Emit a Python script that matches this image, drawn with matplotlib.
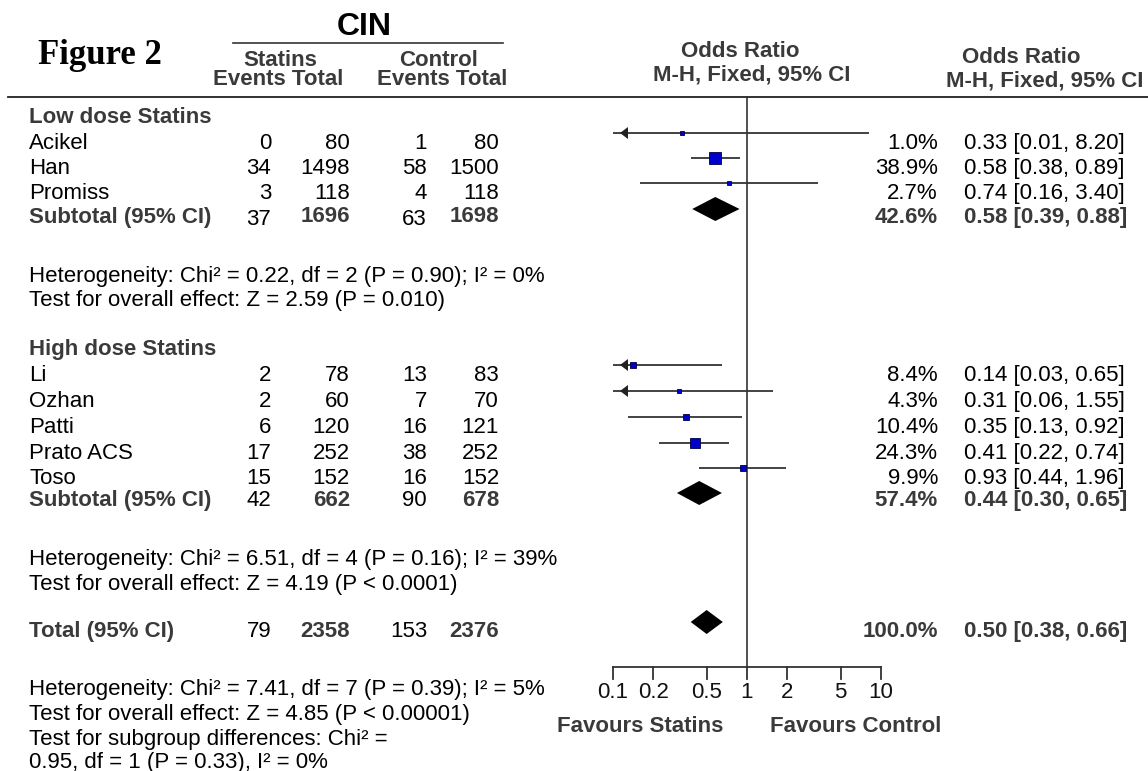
import matplotlib
matplotlib.use("Agg")
import matplotlib.pyplot as plt
import numpy as np

# ---------------- data ----------------
low_names = ["Acikel", "Han", "Promiss"]
low_ev_s = [0, 34, 3]
low_tot_s = [80, 1498, 118]
low_ev_c = [1, 58, 4]
low_tot_c = [80, 1500, 118]
low_weight = [1.0, 38.9, 2.7]
low_or = [0.33, 0.58, 0.74]
low_lo = [0.01, 0.38, 0.16]
low_hi = [8.20, 0.89, 3.40]
low_sub = dict(ev_s=37, tot_s=1696, ev_c=63, tot_c=1698, w=42.6, o=0.58, lo=0.39, hi=0.88)

high_names = ["Li", "Ozhan", "Patti", "Prato ACS", "Toso"]
high_ev_s = [2, 2, 6, 17, 15]
high_tot_s = [78, 60, 120, 252, 152]
high_ev_c = [13, 7, 16, 38, 16]
high_tot_c = [83, 70, 121, 252, 152]
high_weight = [8.4, 4.3, 10.4, 24.3, 9.9]
high_or = [0.14, 0.31, 0.35, 0.41, 0.93]
high_lo = [0.03, 0.06, 0.13, 0.22, 0.44]
high_hi = [0.65, 1.55, 0.92, 0.74, 1.96]
high_sub = dict(ev_s=42, tot_s=662, ev_c=90, tot_c=678, w=57.4, o=0.44, lo=0.30, hi=0.65)

total = dict(ev_s=79, tot_s=2358, ev_c=153, tot_c=2376, w=100.0, o=0.50, lo=0.38, hi=0.66)

het_low = ["Heterogeneity: Chi\u00b2 = 0.22, df = 2 (P = 0.90); I\u00b2 = 0%",
           "Test for overall effect: Z = 2.59 (P = 0.010)"]
het_high = ["Heterogeneity: Chi\u00b2 = 6.51, df = 4 (P = 0.16); I\u00b2 = 39%",
            "Test for overall effect: Z = 4.19 (P < 0.0001)"]
het_total = ["Heterogeneity: Chi\u00b2 = 7.41, df = 7 (P = 0.39); I\u00b2 = 5%",
             "Test for overall effect: Z = 4.85 (P < 0.00001)",
             "Test for subgroup differences: Chi\u00b2 =",
             "0.95, df = 1 (P = 0.33), I\u00b2 = 0%"]

ticks = [0.1, 0.2, 0.5, 1, 2, 5, 10]
tick_labels = ["0.1", "0.2", "0.5", "1", "2", "5", "10"]

# ---------------- layout ----------------
W, H = 1148, 771
FS = 16
SANS = "Liberation Sans"
BOLDC = "#3a3a3a"
TXT = "#000000"

fig = plt.figure(figsize=(W / 100, H / 100), dpi=100)
ax = fig.add_axes([0, 0, 1, 1])
ax.set_xlim(0, W)
ax.set_ylim(H, 0)
ax.axis("off")

X0, X1 = 613, 881
fa = fig.add_axes([X0 / W, 0, (X1 - X0) / W, 1])
fa.set_xscale("log")
fa.set_xlim(0.1, 10)
fa.set_ylim(H, 0)
fa.axis("off")

BL = 8  # baseline offset from visual centre


def t(x, y, s, ha="left", bold=False, size=FS, color=None, family=SANS):
    ax.text(x, y + BL, s, ha=ha, va="baseline", fontsize=size,
            fontweight="bold" if bold else "normal",
            color=color if color else (BOLDC if bold else TXT), family=family)


# header
ax.text(38, 64, "Figure 2", ha="left", va="baseline", fontsize=25,
        fontweight="bold", family="Liberation Serif", color="black")
ax.text(364, 35, "CIN", ha="center", va="baseline", fontsize=23,
        fontweight="bold", family=SANS, color="black")
ax.plot([233, 503], [43, 43], color="#333333", lw=1.2)
ax.text(280, 66, "Statins", ha="center", va="baseline", fontsize=FS, fontweight="bold", family=SANS, color=BOLDC)
ax.text(439, 66, "Control", ha="center", va="baseline", fontsize=FS, fontweight="bold", family=SANS, color=BOLDC)
ax.text(278, 85, "Events Total", ha="center", va="baseline", fontsize=FS, fontweight="bold", family=SANS, color=BOLDC)
ax.text(442, 85, "Events Total", ha="center", va="baseline", fontsize=FS, fontweight="bold", family=SANS, color=BOLDC)
ax.text(740, 57, "Odds Ratio", ha="center", va="baseline", fontsize=FS, fontweight="bold", family=SANS, color=BOLDC)
ax.text(752, 80, "M-H, Fixed, 95% CI", ha="center", va="baseline", fontsize=FS, fontweight="bold", family=SANS, color=BOLDC)
ax.text(1021, 63, "Odds Ratio", ha="center", va="baseline", fontsize=FS, fontweight="bold", family=SANS, color=BOLDC)
ax.text(1045, 87, "M-H, Fixed, 95% CI", ha="center", va="baseline", fontsize=FS, fontweight="bold", family=SANS, color=BOLDC)
ax.plot([8, W], [97, 97], color="#222222", lw=1.3)

XN, XES, XTS, XEC, XTC, XW, XCI = 29, 271, 350, 427, 499, 938, 964

LINEC = "#222222"
ARROW_TIP = 0.1 * 10 ** (7 / 134)
ARROW_BASE = 0.1 * 10 ** (15 / 134)


def study_rows(names, es, ts, ec, tc, wts, ors, los, his, ys):
    for i, n in enumerate(names):
        y = ys[i]
        t(XN, y, n)
        t(XES, y, str(es[i]), ha="right")
        t(XTS, y, str(ts[i]), ha="right")
        t(XEC, y, str(ec[i]), ha="right")
        t(XTC, y, str(tc[i]), ha="right")
        t(XW, y, f"{wts[i]:.1f}%", ha="right")
        t(XCI, y, f"{ors[i]:.2f} [{los[i]:.2f}, {his[i]:.2f}]")
        ym = y - 8
        lo = max(los[i], 0.1)
        hi = min(his[i], 10)
        fa.plot([lo, hi], [ym, ym], color=LINEC, lw=1.2, solid_capstyle="butt", clip_on=False)
        if los[i] < 0.1:
            fa.fill([ARROW_TIP, ARROW_BASE, ARROW_BASE], [ym, ym - 6, ym + 6],
                    color=LINEC, lw=0, clip_on=False)
        side = max(4.0, 2.08 * np.sqrt(wts[i]))
        fa.plot([ors[i]], [ym], marker="s", markersize=side * 0.72,
                markerfacecolor="#0000cc", markeredgecolor="#000044",
                markeredgewidth=0.6, clip_on=False, zorder=5)


def summary_row(label, d, y, ydia, dy_ev=0, dy_tot=0):
    t(XN, y, label, bold=True)
    t(XES, y + dy_ev, str(d["ev_s"]), ha="right")
    t(XTS, y + dy_tot, str(d["tot_s"]), ha="right", bold=True)
    t(XEC, y + dy_ev, str(d["ev_c"]), ha="right")
    t(XTC, y + dy_tot, str(d["tot_c"]), ha="right", bold=True)
    t(XW, y, f"{d['w']:.1f}%", ha="right", bold=True)
    t(XCI, y, f"{d['o']:.2f} [{d['lo']:.2f}, {d['hi']:.2f}]", bold=True)
    fa.fill([d["lo"], d["o"], d["hi"], d["o"]], [ydia, ydia - 12, ydia, ydia + 12],
            color="black", lw=0, clip_on=False, zorder=4)


# low dose
t(XN, 115, "Low dose Statins", bold=True)
study_rows(low_names, low_ev_s, low_tot_s, low_ev_c, low_tot_c, low_weight,
           low_or, low_lo, low_hi, [141, 166, 191])
summary_row("Subtotal (95% CI)", low_sub, 215, 209, dy_ev=2, dy_tot=-1)
for s, y in zip(het_low, [274, 298]):
    t(XN, y, s)

# high dose
t(XN, 347, "High dose Statins", bold=True)
study_rows(high_names, high_ev_s, high_tot_s, high_ev_c, high_tot_c, high_weight,
           high_or, high_lo, high_hi, [373, 399, 425, 451, 476])
summary_row("Subtotal (95% CI)", high_sub, 498, 493)
for s, y in zip(het_high, [557, 582]):
    t(XN, y, s)

# total
summary_row("Total (95% CI)", total, 629, 622)
for s, y in zip(het_total, [687, 712, 737, 760]):
    t(XN, y, s)

# vertical line of no effect
fa.plot([1, 1], [97, 667], color="#333333", lw=1.2, clip_on=False)

# x axis
AY = 667
fa.plot([0.1, 10], [AY, AY], color="#333333", lw=1.3, clip_on=False)
for tk, lab in zip(ticks, tick_labels):
    fa.plot([tk, tk], [AY, AY + 12], color="#333333", lw=1.3, clip_on=False)
    fa.text(tk, 698, lab, ha="center", va="baseline", fontsize=FS, family=SANS, color="#111111")

t(723, 724, "Favours Statins", ha="right", bold=True)
t(770, 724, "Favours Control", ha="left", bold=True)

fig.savefig("out.png", dpi=100)
